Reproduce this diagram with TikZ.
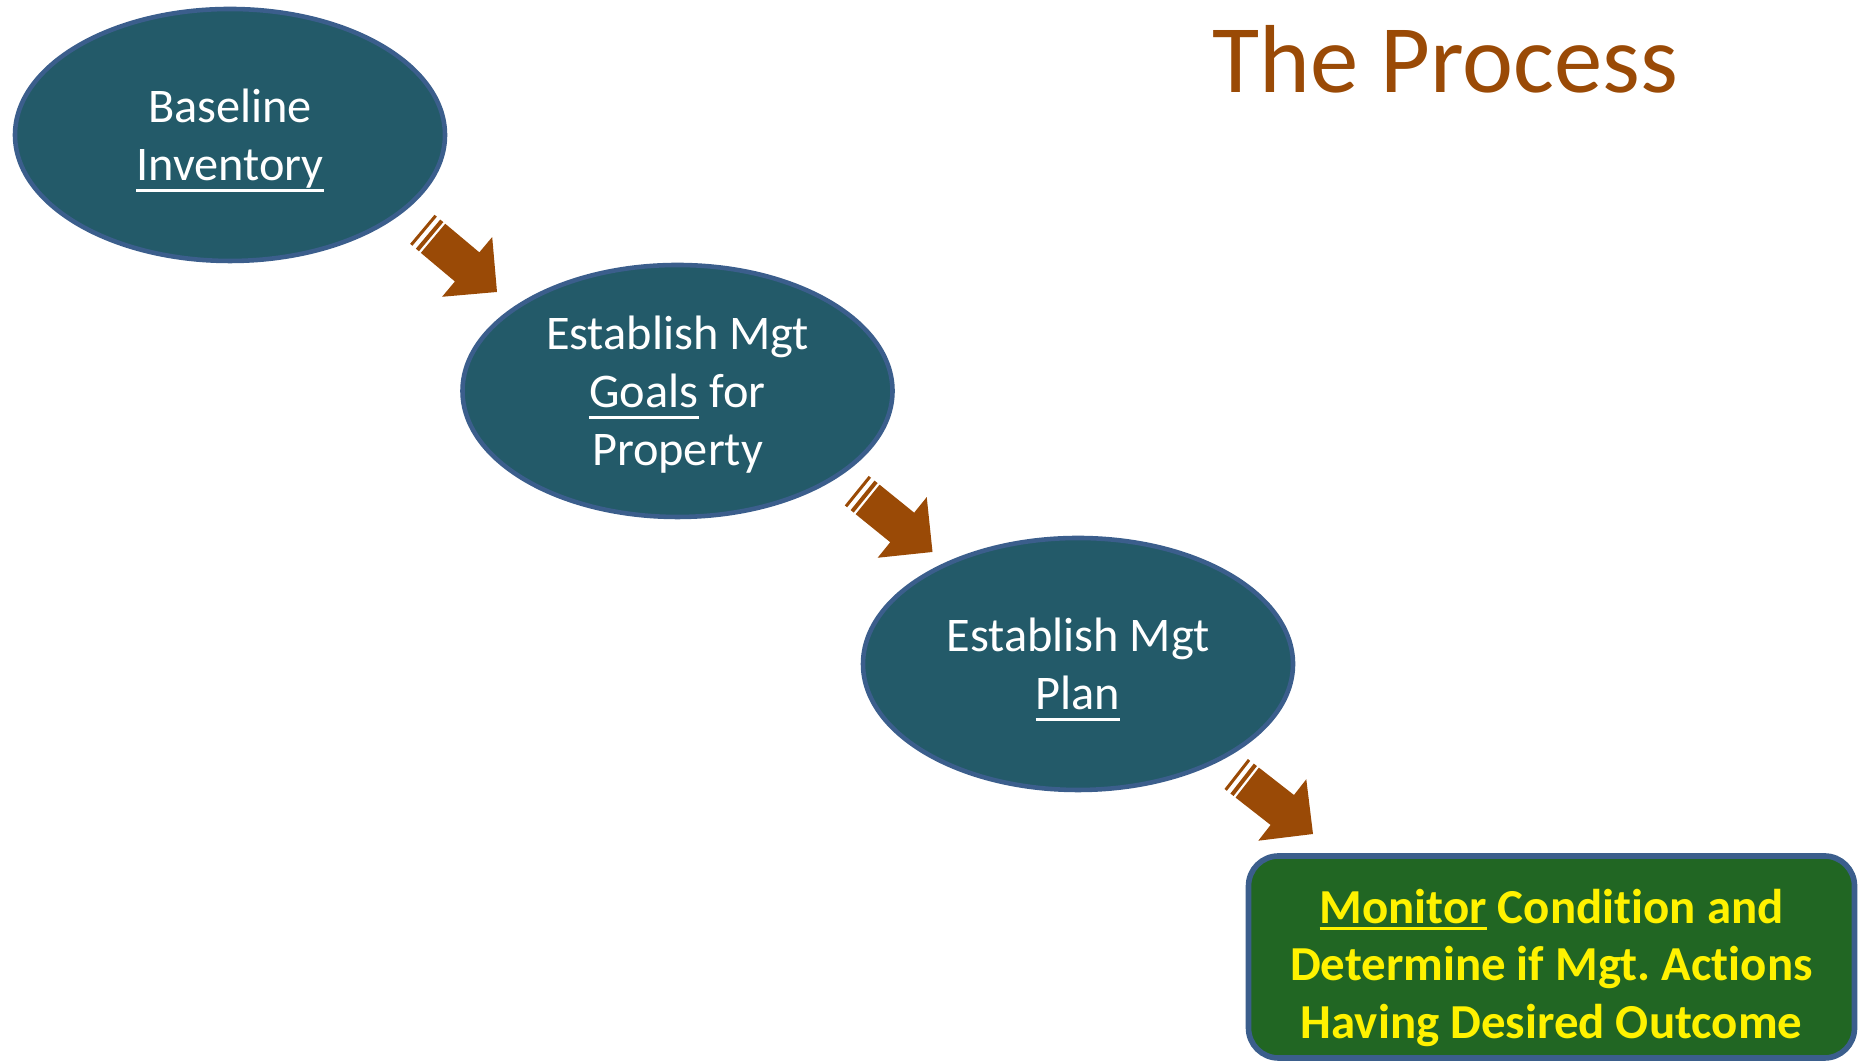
\documentclass[tikz,border=0pt]{standalone}
\usepackage{fontspec}
\setmainfont{Carlito}[Ligatures=NoCommon]
\usetikzlibrary{shapes.geometric}

\definecolor{tealfill}{HTML}{235A69}
\definecolor{blueline}{HTML}{3B5E8C}
\definecolor{rust}{HTML}{9A4A06}
\definecolor{leafgreen}{HTML}{216623}

% underlined word, rule at a fixed drop below the baseline
\newcommand{\ulword}[2][3.2pt]{\sbox0{#2}\rlap{\rule[-#1]{\wd0}{0.9pt}}\usebox0}

\tikzset{
  stage/.style={ellipse,draw=blueline,line width=1.3pt,fill=tealfill,
    minimum width=4.3cm,minimum height=2.52cm,inner sep=0pt,text depth=0pt,
    text=white,align=center,font=\fontsize{13.75}{16.5}\selectfont},
  monitorbox/.style={rectangle,rounded corners=0.3cm,draw=blueline,line width=1.6pt,
    fill=leafgreen,minimum width=6.06cm,minimum height=2.02cm,inner sep=0pt,text depth=0pt,
    text=yellow,align=center,font=\fontsize{13.9}{16.3}\selectfont\bfseries}
}
\tikzset{
  stripearrow/.pic={
    \fill[rust] (0,0) -- (-0.39,0.39) -- (-0.39,0.19) -- (-0.835,0.19)
      -- (-0.835,-0.19) -- (-0.39,-0.19) -- (-0.39,-0.39) -- cycle;
    \fill[rust] (-0.86,0.19) rectangle (-0.90,-0.19);
    \fill[rust] (-0.945,0.19) rectangle (-0.975,-0.19);
  }
}

\begin{document}
\begin{tikzpicture}
\useasboundingbox (0,0) rectangle (18.62,10.63);

\node[anchor=base,text=rust,font=\fontsize{27.5}{30}\selectfont] (title) at (14.455,9.70) {The Process};

\node[stage] (inventory) at (2.30,9.28) {Baseline\\\ulword{Inventory}};
\node[stage] (goals) at (6.775,6.72) {Establish Mgt\\\ulword{Goals} for\\Property};
\node[stage] (plan) at (10.78,3.99) {Establish Mgt\\\ulword{Plan}};

\node[monitorbox] (monitor) at (15.515,1.06)
  {\rule{0pt}{13.5pt}\ulword[2pt]{Monitor} Condition and\\Determine if Mgt.\ Actions\\Having Desired Outcome};

\coordinate (tip1) at (4.97,7.71);
\coordinate (tip2) at (9.325,5.11);
\coordinate (tip3) at (13.13,2.29);

\pic[rotate=-40] at (tip1) {stripearrow};
\pic[rotate=-39] at (tip2) {stripearrow};
\pic[rotate=-38] at (tip3) {stripearrow};

\end{tikzpicture}
\end{document}
